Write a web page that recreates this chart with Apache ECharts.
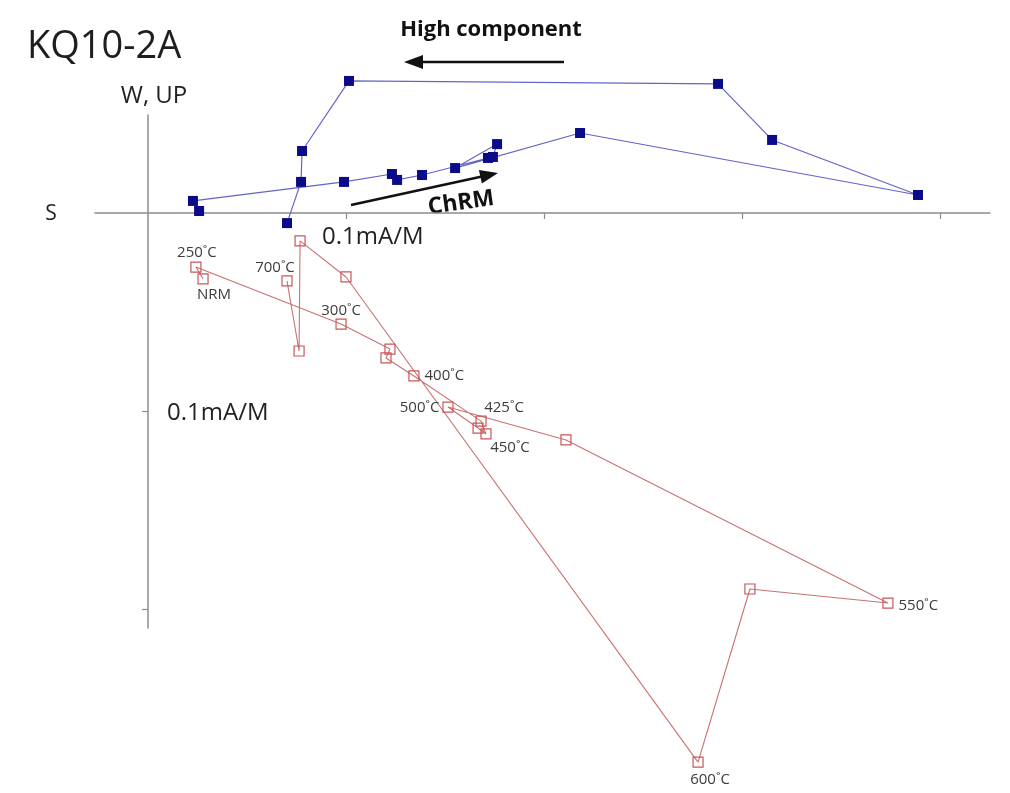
<!DOCTYPE html>
<html>
<head>
<meta charset="utf-8">
<script src="https://cdn.jsdelivr.net/npm/echarts@6/dist/echarts.min.js"></script>
<style>
html,body{margin:0;padding:0;background:#fff;}
#chart{width:1010px;height:793px;}
</style>
</head>
<body>
<div id="chart"></div>
<script>
// Units: 1 = 0.1 mA/M (one axis tick)
var steps = ['NRM','250˚C','300˚C','350˚C','375˚C','400˚C','425˚C','450˚C','475˚C','500˚C','525˚C','550˚C','575˚C','600˚C','625˚C','650˚C','675˚C','700˚C'];
var shownLabels = ['NRM','250˚C','300˚C','400˚C','425˚C','450˚C','500˚C','550˚C','600˚C','700˚C'];

// Horizontal projection (W, UP axis; filled squares)
var horizX = [0.258, 0.227, 0.990, 1.232, 1.258, 1.384, 1.717, 1.742, 1.763, 1.551, 2.182, 3.889, 3.152, 2.879, 1.015, 0.778, 0.773, 0.702];
var horizY = [0.010, 0.061, 0.157, 0.197, 0.167, 0.192, 0.278, 0.283, 0.348, 0.227, 0.404, 0.091, 0.369, 0.652, 0.667, 0.313, 0.157, -0.051];

// Vertical projection (open squares)
var vertX = [0.278, 0.242, 0.975, 1.222, 1.202, 1.343, 1.682, 1.707, 1.667, 1.515, 2.111, 3.737, 3.040, 2.778, 1.000, 0.768, 0.763, 0.702];
var vertY = [-0.333, -0.273, -0.561, -0.687, -0.732, -0.823, -1.051, -1.116, -1.086, -0.980, -1.146, -1.970, -1.899, -2.773, -0.323, -0.141, -0.697, -0.343];

var xTicks = [1, 2, 3, 4];
var yTicks = [-1, -2];
var unitLabel = '0.1mA/M';

// label placement (style only)
var labelPlace = {
  'NRM':   {position:'bottom', distance:3, offset:[11,0]},
  '250˚C': {position:'top', distance:1, offset:[1,0]},
  '300˚C': {position:'top', distance:0, offset:[0,0]},
  '400˚C': {position:'right', distance:5, offset:[0,0]},
  '425˚C': {position:'top', distance:0, offset:[23,0]},
  '450˚C': {position:'bottom', distance:1, offset:[24,0]},
  '500˚C': {position:'left', distance:3, offset:[0,1]},
  '550˚C': {position:'right', distance:5, offset:[0,3]},
  '600˚C': {position:'bottom', distance:5, offset:[12,0]},
  '700˚C': {position:'top', distance:0, offset:[-12,0]}
};

var horizData = horizX.map(function(x,i){ return [x, horizY[i]]; });
var vertData = vertX.map(function(x,i){
  var name = steps[i];
  var item = {value:[x, vertY[i]], name:name};
  if (shownLabels.indexOf(name) >= 0) {
    var p = labelPlace[name];
    item.label = {show:true, position:p.position, distance:p.distance, offset:p.offset};
  }
  return item;
});

var chart = echarts.init(document.getElementById('chart'), null, {renderer:'canvas'});
var axisColor = '#8c8c8c';
var font = '"Open Sans", "Noto Sans", sans-serif';

var option = {
  backgroundColor:'#ffffff',
  animation:false,
  grid:{left:95, right:20, top:115, bottom:165, containLabel:false, outerBoundsMode:'none'},
  xAxis:{
    type:'value', min:-53/198, max:842/198,
    axisLine:{show:true, onZero:true, lineStyle:{color:axisColor, width:1.5}},
    axisTick:{show:true, customValues:xTicks, length:6, inside:false, lineStyle:{color:axisColor, width:1.2}},
    axisLabel:{show:false},
    splitLine:{show:false}
  },
  yAxis:{
    type:'value', min:-415/198, max:98/198,
    axisLine:{show:true, onZero:true, lineStyle:{color:axisColor, width:1.5}},
    axisTick:{show:true, customValues:yTicks, length:6, inside:false, lineStyle:{color:axisColor, width:1.2}},
    axisLabel:{show:false},
    splitLine:{show:false}
  },
  series:[
    {
      type:'line', name:'Horizontal', data:horizData, clip:false,
      symbol:'rect', symbolSize:10, z:3,
      itemStyle:{color:'#0b0b8a'},
      lineStyle:{color:'#6464c8', width:1.2},
      emphasis:{disabled:true}
    },
    {
      type:'line', name:'Vertical', data:vertData, clip:false,
      symbol:'rect', symbolSize:10, z:3,
      itemStyle:{color:'rgba(255,255,255,0)', borderColor:'#c8575a', borderWidth:1.2},
      lineStyle:{color:'#c87272', width:1.1},
      label:{show:false, formatter:function(p){ return p.name; }, color:'#3c3c3c', fontSize:15, fontFamily:font},
      emphasis:{disabled:true}
    }
  ],
  graphic:[
    {type:'text', x:27, y:47, style:{text:'KQ10-2A', font:'38px "Open Sans"', fill:'#1e1e1e', align:'left', verticalAlign:'middle'}},
    {type:'text', x:491, y:30, style:{text:'High component', font:'bold 22px "Open Sans"', fill:'#111', align:'center', verticalAlign:'middle'}},
    {type:'line', shape:{x1:564, y1:62, x2:420, y2:62}, style:{stroke:'#111', lineWidth:2.5}},
    {type:'polygon', shape:{points:[[404,62],[423,55],[423,69]]}, style:{fill:'#111'}},
    {type:'text', x:154, y:96, style:{text:'W, UP', font:'24px "Open Sans"', fill:'#222', align:'center', verticalAlign:'middle'}},
    {type:'text', x:51, y:214, style:{text:'S', font:'21px "Open Sans"', fill:'#222', align:'center', verticalAlign:'middle'}},
    {type:'text', x:322, y:237, style:{text:unitLabel, font:'24px "Open Sans"', fill:'#222', align:'left', verticalAlign:'middle'}},
    {type:'text', x:167, y:413, style:{text:unitLabel, font:'24px "Open Sans"', fill:'#222', align:'left', verticalAlign:'middle'}},
    {type:'line', shape:{x1:351, y1:205, x2:482, y2:176.5}, style:{stroke:'#111', lineWidth:2.5}},
    {type:'polygon', shape:{points:[[498,173],[481.9,183.6],[478.9,170.0]]}, style:{fill:'#111'}},
    {type:'text', x:461, y:203, rotation:0.14, style:{text:'ChRM', font:'bold 23px "Open Sans"', fill:'#111', align:'center', verticalAlign:'middle'}}
  ]
};
chart.setOption(option);
</script>
</body>
</html>
